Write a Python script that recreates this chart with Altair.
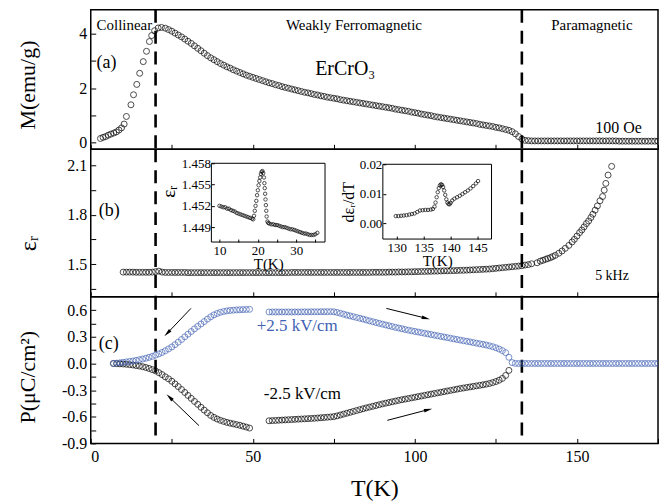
import altair as alt
import pandas as pd

FONT = "Liberation Serif"
BLUE = "#4161b4"

# ---------------- panel (a): M (emu/g) vs T (K) ----------------
T_M_low = [3.0, 3.8, 4.6, 5.4, 6.2, 7.1, 7.9, 8.7, 9.5, 10.3, 11.0, 12.4, 13.2, 14.2,
           15.1, 16.2, 17.2, 18.1, 18.8, 19.7, 20.8, 21.8]
M_low = [0.15, 0.19, 0.22, 0.27, 0.31, 0.35, 0.39, 0.46, 0.54, 0.68, 0.96, 1.39, 1.76, 2.14,
         2.55, 2.98, 3.36, 3.72, 3.94, 4.12, 4.22, 4.24]
T_M_high = list(range(23, 176))
M_high = [
    4.21, 4.16, 4.10, 4.03, 3.96, 3.89, 3.81, 3.73, 3.65, 3.56,
    3.47, 3.38, 3.29, 3.20, 3.12, 3.05, 2.98, 2.91, 2.85, 2.79,
    2.74, 2.68, 2.63, 2.58, 2.53, 2.48, 2.44, 2.40, 2.36, 2.32,
    2.28, 2.24, 2.20, 2.17, 2.13, 2.10, 2.06, 2.03, 2.00, 1.97,
    1.94, 1.91, 1.88, 1.85, 1.83, 1.80, 1.77, 1.75, 1.72, 1.70,
    1.67, 1.65, 1.63, 1.61, 1.58, 1.56, 1.54, 1.52, 1.50, 1.48,
    1.46, 1.44, 1.42, 1.40, 1.38, 1.36, 1.34, 1.32, 1.30, 1.28,
    1.26, 1.23, 1.21, 1.19, 1.17, 1.15, 1.12, 1.10, 1.08, 1.05,
    1.03, 1.01, 0.99, 0.96, 0.94, 0.92, 0.90, 0.88, 0.86, 0.84,
    0.82, 0.80, 0.78, 0.76, 0.74, 0.72, 0.70, 0.67, 0.65, 0.63,
    0.61, 0.59, 0.56, 0.54, 0.51, 0.48, 0.45, 0.40, 0.32, 0.22,
    0.13, 0.08, 0.07, 0.06, 0.06, 0.06, 0.06, 0.06, 0.06, 0.06,
    0.06, 0.06, 0.06, 0.06, 0.06, 0.06, 0.06, 0.06, 0.06, 0.06,
    0.06, 0.06, 0.06, 0.06, 0.06, 0.06, 0.06, 0.06, 0.06, 0.06,
    0.05, 0.05, 0.05, 0.05, 0.05, 0.05, 0.05, 0.05, 0.05, 0.05,
    0.05, 0.05, 0.05,
]

# ---------------- panel (b): eps_r vs T ----------------
T_E_low = list(range(10, 137))
E_low = [
    1.451, 1.451, 1.451, 1.451, 1.450, 1.450, 1.450, 1.450, 1.450, 1.451,
    1.454, 1.457, 1.451, 1.449, 1.449, 1.449, 1.449, 1.449, 1.449, 1.449,
    1.448, 1.448, 1.448, 1.448, 1.448, 1.448, 1.448, 1.448, 1.448, 1.448,
    1.448, 1.448, 1.448, 1.448, 1.448, 1.448, 1.448, 1.448, 1.448, 1.448,
    1.448, 1.448, 1.448, 1.448, 1.448, 1.448, 1.448, 1.448, 1.448, 1.448,
    1.448, 1.448, 1.449, 1.449, 1.449, 1.449, 1.449, 1.449, 1.449, 1.449,
    1.449, 1.449, 1.449, 1.449, 1.449, 1.449, 1.449, 1.449, 1.449, 1.449,
    1.449, 1.449, 1.449, 1.449, 1.449, 1.449, 1.449, 1.450, 1.450, 1.450,
    1.450, 1.450, 1.451, 1.451, 1.451, 1.452, 1.452, 1.452, 1.453, 1.453,
    1.454, 1.454, 1.455, 1.455, 1.456, 1.456, 1.457, 1.457, 1.458, 1.459,
    1.459, 1.460, 1.460, 1.461, 1.462, 1.462, 1.463, 1.464, 1.465, 1.466,
    1.467, 1.468, 1.469, 1.470, 1.472, 1.474, 1.476, 1.478, 1.480, 1.482,
    1.484, 1.486, 1.488, 1.490, 1.494, 1.497, 1.502,
]
T_E_high = [137.7, 138.7, 139.5, 140.3, 141.0, 141.8, 142.5, 143.3, 144.4, 145.4,
            146.4, 147.5, 148.5, 149.2, 150.0, 150.8, 151.5, 152.2, 152.9, 153.6,
            154.3, 154.9, 155.6, 156.3, 157.1, 157.9, 158.4, 158.9, 159.6, 160.7]
E_high = [1.508, 1.518, 1.523, 1.529, 1.534, 1.539, 1.546, 1.553, 1.566, 1.580,
          1.596, 1.614, 1.635, 1.651, 1.671, 1.692, 1.708, 1.727, 1.747, 1.763,
          1.784, 1.804, 1.829, 1.855, 1.886, 1.912, 1.951, 1.992, 2.043, 2.096]

# inset 1: eps_r near 20 K
T_in1 = [10.0, 10.5, 11.0, 11.5, 12.0, 12.5, 13.0, 13.5, 14.0, 14.5, 15.0, 15.5, 16.0, 16.5,
         17.0, 17.5, 18.0, 18.5, 18.8,
         19.0, 19.2, 19.4, 19.6, 19.8, 20.0, 20.2, 20.4, 20.6, 20.8, 21.0, 21.2,
         21.4, 21.6, 21.7, 21.8, 21.9, 22.0, 22.1, 22.2, 22.3, 22.5, 22.7,
         23.0, 23.5, 24.0, 24.5, 25.0, 25.5, 26.0, 26.5, 27.0, 27.5, 28.0, 28.5, 29.0,
         29.5, 30.0, 30.5, 31.0, 31.5, 32.0, 32.5, 33.0, 33.5, 34.0, 34.5, 35.0, 35.5]
E_in1 = [1.4520, 1.4519, 1.4518, 1.4518, 1.4516, 1.4516, 1.4514, 1.4513, 1.4512, 1.4510,
         1.4509, 1.4508, 1.4507, 1.4506, 1.4505, 1.4504, 1.4503, 1.4502, 1.4501,
         1.4506, 1.4513, 1.4520, 1.4527, 1.4535, 1.4542, 1.4549, 1.4555, 1.4560, 1.4565,
         1.4568, 1.4569,
         1.4566, 1.4560, 1.4552, 1.4545, 1.4537, 1.4529, 1.4521, 1.4513, 1.4505, 1.4498, 1.4496,
         1.4495, 1.4494, 1.4494, 1.4493, 1.4493, 1.4492, 1.4491, 1.4490, 1.4490, 1.4489,
         1.4488, 1.4487, 1.4487, 1.4486, 1.4485, 1.4484, 1.4483, 1.4482, 1.4481, 1.4481,
         1.4480, 1.4479, 1.4479, 1.4479, 1.4480, 1.4482]

# inset 2: d eps_r / dT near 138 K
T_in2 = [129.8, 130.3, 130.8, 131.3, 131.8, 132.3, 132.8, 133.3, 133.8, 134.3, 134.8, 135.3,
         135.8, 136.3, 136.7, 137.0, 137.2, 137.4, 137.6, 137.8, 138.0, 138.2, 138.4, 138.6,
         138.8, 139.0, 139.2, 139.4, 139.6, 139.8, 140.0, 140.3, 140.7, 141.2, 141.7, 142.2,
         142.7, 143.2, 143.7, 144.2, 144.7, 145.1]
D_in2 = [0.0024, 0.0024, 0.0025, 0.0026, 0.0027, 0.0029, 0.0031, 0.0033, 0.0038, 0.0043,
         0.0044, 0.0045, 0.0045, 0.0046, 0.0048, 0.0056, 0.0070, 0.0088, 0.0105, 0.0119,
         0.0128, 0.0132, 0.0130, 0.0123, 0.0111, 0.0096, 0.0081, 0.0070, 0.0065, 0.0064,
         0.0069, 0.0077, 0.0083, 0.0088, 0.0093, 0.0099, 0.0105, 0.0111, 0.0118, 0.0126,
         0.0135, 0.0143]

# ---------------- panel (c): P vs T ----------------
T_P1 = list(range(7, 50))
P_pos1 = [0.000, 0.004, 0.008, 0.013, 0.018, 0.023, 0.028, 0.035, 0.042, 0.050,
          0.059, 0.069, 0.080, 0.094, 0.108, 0.124, 0.143, 0.164, 0.186, 0.212,
          0.240, 0.270, 0.300, 0.330, 0.360, 0.390, 0.418, 0.445, 0.472, 0.500,
          0.525, 0.547, 0.563, 0.576, 0.585, 0.592, 0.597, 0.600, 0.603, 0.605,
          0.607, 0.608, 0.610]
P_neg1 = [0.000, -0.002, -0.004, -0.006, -0.009, -0.013, -0.017, -0.023, -0.029, -0.036,
          -0.045, -0.056, -0.069, -0.084, -0.103, -0.125, -0.150, -0.173, -0.200, -0.230,
          -0.260, -0.293, -0.326, -0.360, -0.393, -0.427, -0.460, -0.493, -0.525, -0.555,
          -0.585, -0.607, -0.625, -0.640, -0.652, -0.663, -0.672, -0.680, -0.688, -0.696,
          -0.706, -0.716, -0.727]
T_P2 = list(range(55, 130))
P_pos2 = [0.580, 0.580, 0.580, 0.580, 0.580, 0.580, 0.580, 0.580, 0.580, 0.580,
          0.581, 0.581, 0.581, 0.582, 0.582, 0.582, 0.583, 0.583, 0.583, 0.584,
          0.582, 0.575, 0.565, 0.555, 0.545, 0.536, 0.527, 0.518, 0.509, 0.500,
          0.490, 0.480, 0.470, 0.461, 0.452, 0.443, 0.434, 0.425, 0.416, 0.407,
          0.399, 0.391, 0.383, 0.375, 0.368, 0.361, 0.354, 0.347, 0.340, 0.333,
          0.326, 0.319, 0.312, 0.305, 0.298, 0.291, 0.284, 0.277, 0.270, 0.263,
          0.256, 0.250, 0.243, 0.236, 0.229, 0.222, 0.215, 0.208, 0.199, 0.189,
          0.177, 0.162, 0.145, 0.122, 0.070]
P_neg2 = [-0.645, -0.643, -0.641, -0.639, -0.637, -0.635, -0.633, -0.631, -0.629, -0.627,
          -0.625, -0.623, -0.621, -0.619, -0.617, -0.614, -0.611, -0.608, -0.605, -0.602,
          -0.598, -0.590, -0.580, -0.570, -0.560, -0.550, -0.540, -0.530, -0.520, -0.510,
          -0.500, -0.491, -0.482, -0.473, -0.464, -0.455, -0.447, -0.439, -0.431, -0.423,
          -0.415, -0.408, -0.401, -0.394, -0.387, -0.380, -0.373, -0.366, -0.359, -0.352,
          -0.345, -0.338, -0.331, -0.324, -0.317, -0.310, -0.303, -0.296, -0.289, -0.282,
          -0.276, -0.270, -0.264, -0.258, -0.252, -0.246, -0.240, -0.233, -0.225, -0.215,
          -0.203, -0.188, -0.168, -0.135, -0.078]
T_P3 = list(range(130, 176))
P_pos3 = [0.010, 0.001, 0.000, 0.000, 0.000, 0.000, 0.000, 0.000, 0.000, 0.000,
          0.000, 0.000, 0.000, 0.000, 0.000, 0.000, 0.000, 0.000, 0.000, 0.000,
          0.000, 0.000, 0.000, 0.000, 0.000, 0.000, 0.000, 0.000, 0.000, 0.000,
          0.000, 0.000, 0.000, 0.000, 0.000, 0.000, 0.000, 0.000, 0.000, 0.000,
          0.000, 0.000, 0.000, 0.000, 0.000, 0.000]

TRANSITIONS = [20, 133]
X_TICKS = [0, 25, 50, 75, 100, 125, 150, 175]
MA_TICKS = [0, 1, 2, 3, 4]
EB_TICKS = [1.35, 1.5, 1.65, 1.8, 1.95, 2.1]
PC_TICKS = [-0.9, -0.75, -0.6, -0.45, -0.3, -0.15, 0.0, 0.15, 0.3, 0.45, 0.6]

# arrows in panel (c): start (T, P) -> end (T2, P2), head angle in degrees
ARR_T = [30.9, 33.4, 91.2, 91.5]
ARR_P = [0.62, -0.70, 0.62, -0.64]
ARR_T2 = [23.6, 24.3, 103.4, 104.1]
ARR_P2 = [0.34, -0.38, 0.51, -0.52]
ARR_ANG = [225, 314, 104, 76]

# ---------------- helpers ----------------
W = 569
HA, HB, HC = 140, 148, 147
xscale = alt.Scale(domain=[0, 175], nice=False, zero=False)
INWARD5 = {"expr": "-5"}
INWARD3 = {"expr": "-3"}


def xaxis(labels):
    if labels:
        return alt.Axis(values=X_TICKS, labelExpr="datum.value % 50 == 0 ? datum.label : ''",
                        title="T(K)", tickSize=INWARD5, labelPadding=10, domain=False,
                        grid=False, labelFontSize=16, titleFontSize=24, titlePadding=12)
    return alt.Axis(values=X_TICKS, labels=False, title=None, tickSize=INWARD5,
                    domain=False, grid=False)


def yaxis(title, values, expr, ty, tx=-63, tsize=22):
    return alt.Axis(values=values, labelExpr=expr, title=title, tickSize=INWARD5,
                    labelPadding=9, domain=False, grid=False, labelFontSize=16,
                    titleFontSize=tsize, titleX=tx, titleY=ty, titleAngle=270,
                    titleAlign="center", titleBaseline="middle")


def pts(df, color="black", size=36):
    return alt.Chart(df).mark_point(shape="circle", filled=False, size=size, strokeWidth=1,
                                    color=color, clip=True)


def texts(df, X, Y, **kw):
    return alt.Chart(df).mark_text(font=FONT, color=kw.pop("color", "black"), **kw).encode(
        x=X, y=Y, text="label:N")


def rules(X):
    return alt.Chart(pd.DataFrame({"T": TRANSITIONS})).mark_rule(
        strokeDash=[13, 8], strokeWidth=2.6, color="black", clip=True).encode(x=X)


LAB2 = "round(datum.value*100) % 30 == 0 ? replace(format(datum.value, '.1f'), '\u2212', '-') : ''"

# ---------------- panel (a) ----------------
Xa = alt.X("T:Q", scale=xscale, axis=xaxis(False))
Ya = alt.Y("v:Q", scale=alt.Scale(domain=[-0.25, 4.89], nice=False, zero=False),
           axis=yaxis("M(emu/g)", MA_TICKS, "datum.value % 2 == 0 ? datum.label : ''", 75))
df_a = pd.DataFrame({"T": T_M_low + T_M_high[:len(M_high)], "v": M_low + M_high[:len(T_M_high)]})
panel_a = alt.layer(
    rules(Xa),
    pts(df_a).encode(x=Xa, y=Ya),
    texts(pd.DataFrame({"T": [1.8], "v": [4.34], "label": ["Collinear"]}), Xa, Ya,
          align="left", baseline="middle", fontSize=15),
    texts(pd.DataFrame({"T": [81.2, 154.6], "v": [4.34, 4.34],
                        "label": ["Weakly Ferromagnetic", "Paramagnetic"]}), Xa, Ya,
          align="center", baseline="middle", fontSize=15),
    texts(pd.DataFrame({"T": [78.5], "v": [2.69], "label": ["ErCrO\u2083"]}), Xa, Ya,
          align="center", baseline="middle", fontSize=20),
    texts(pd.DataFrame({"T": [1.8], "v": [2.92], "label": ["(a)"]}), Xa, Ya,
          align="left", baseline="middle", fontSize=18),
    texts(pd.DataFrame({"T": [170], "v": [0.53], "label": ["100 Oe"]}), Xa, Ya,
          align="right", baseline="middle", fontSize=16),
).properties(width=W, height=HA)

# ---------------- panel (b) ----------------
Xb = alt.X("T:Q", scale=xscale, axis=xaxis(False))
Yb = alt.Y("v:Q", scale=alt.Scale(domain=[1.3, 2.2], nice=False, zero=False),
           axis=yaxis("\u03b5\u1d63", EB_TICKS, LAB2, 94, tx=-62, tsize=24))
df_b = pd.DataFrame({"T": T_E_low[:len(E_low)] + T_E_high, "v": E_low[:len(T_E_low)] + E_high})
main_b = alt.layer(
    rules(Xb),
    pts(df_b).encode(x=Xb, y=Yb),
    texts(pd.DataFrame({"T": [2.5], "v": [1.823], "label": ["(b)"]}), Xb, Yb,
          align="left", baseline="middle", fontSize=18),
    texts(pd.DataFrame({"T": [166], "v": [1.427], "label": ["5 kHz"]}), Xb, Yb,
          align="right", baseline="middle", fontSize=14),
)

X1 = alt.X("T:Q", scale=alt.Scale(domain=[7.9, 37.5], range=[121, 235], nice=False, zero=False),
           axis=alt.Axis(orient="bottom", offset=-55, values=[10, 15, 20, 25, 30, 35],
                         labelExpr="datum.value % 10 == 0 ? datum.label : ''", title="T(K)",
                         tickSize=INWARD3, labelPadding=5, domain=False, grid=False,
                         labelFontSize=13, titleFontSize=15, titlePadding=0))
Y1 = alt.Y("v:Q", scale=alt.Scale(domain=[1.4469, 1.458], range=[93, 14], nice=False, zero=False),
           axis=alt.Axis(orient="left", offset=-121, values=[1.449, 1.452, 1.455, 1.458],
                         format=".3f", title="\u03b5\u1d63", tickSize=INWARD3, labelPadding=4,
                         domain=False, grid=False, labelFontSize=13, titleFontSize=19,
                         titlePadding=3, titleY=42))
frame1 = pd.DataFrame({"T": [7.9], "T2": [37.5], "v": [1.4469], "v2": [1.458]})
inset1 = alt.layer(
    alt.Chart(frame1).mark_rect(fillOpacity=0, stroke="black", strokeWidth=1).encode(
        x=X1, x2="T2", y=Y1, y2="v2"),
    pts(pd.DataFrame({"T": T_in1, "v": E_in1}), size=12).encode(x=X1, y=Y1),
)

X2 = alt.X("T:Q", scale=alt.Scale(domain=[127.4, 147.6], range=[293, 402], nice=False, zero=False),
           axis=alt.Axis(orient="bottom", offset=-58, values=[130, 135, 140, 145], title="T(K)",
                         tickSize=INWARD3, labelPadding=5, domain=False, grid=False,
                         labelFontSize=13, titleFontSize=15, titlePadding=0))
Y2 = alt.Y("v:Q", scale=alt.Scale(domain=[-0.0054, 0.02], range=[90, 15], nice=False, zero=False),
           axis=alt.Axis(orient="left", offset=-293, values=[0.0, 0.01, 0.02], format=".2f",
                         title="d\u03b5\u1d63/dT", tickSize=INWARD3, labelPadding=4,
                         domain=False, grid=False, labelFontSize=13, titleFontSize=16,
                         titlePadding=3))
frame2 = pd.DataFrame({"T": [127.4], "T2": [147.6], "v": [-0.0054], "v2": [0.02]})
inset2 = alt.layer(
    alt.Chart(frame2).mark_rect(fillOpacity=0, stroke="black", strokeWidth=1).encode(
        x=X2, x2="T2", y=Y2, y2="v2"),
    pts(pd.DataFrame({"T": T_in2, "v": D_in2}), size=12).encode(x=X2, y=Y2),
)

panel_b = alt.layer(main_b, inset1, inset2).resolve_scale(
    x="independent", y="independent").properties(width=W, height=HB)

# ---------------- panel (c) ----------------
Xc = alt.X("T:Q", scale=xscale, axis=xaxis(True))
Yc = alt.Y("v:Q", scale=alt.Scale(domain=[-0.9, 0.75], nice=False, zero=False),
           axis=yaxis("P(\u03bcC/cm\u00b2)", PC_TICKS, LAB2, 80))
df_neg = pd.DataFrame({"T": T_P1 + T_P2, "v": P_neg1 + P_neg2})
df_pos = pd.DataFrame({"T": T_P1 + T_P2 + T_P3, "v": P_pos1 + P_pos2 + P_pos3})
df_arr = pd.DataFrame({"T": ARR_T, "v": ARR_P, "T2": ARR_T2, "v2": ARR_P2})
df_head = pd.DataFrame({"T": ARR_T2, "v": ARR_P2, "ang": ARR_ANG})
panel_c = alt.layer(
    rules(Xc),
    pts(df_neg).encode(x=Xc, y=Yc),
    pts(df_pos, color=BLUE).encode(x=Xc, y=Yc),
    alt.Chart(df_arr).mark_rule(color="black", strokeWidth=1).encode(
        x=Xc, y=Yc, x2="T2", y2="v2"),
    alt.Chart(df_head).mark_point(shape="M0,-1L0.42,1L-0.42,1Z", filled=True, size=70,
                                  color="black", opacity=1).encode(
        x=Xc, y=Yc, angle=alt.Angle("ang:Q", scale=None)),
    texts(pd.DataFrame({"T": [2.5], "v": [0.22], "label": ["(c)"]}), Xc, Yc,
          align="left", baseline="middle", fontSize=18),
    texts(pd.DataFrame({"T": [51.2], "v": [0.42], "label": ["+2.5 kV/cm"]}), Xc, Yc,
          align="left", baseline="middle", fontSize=17, color=BLUE),
    texts(pd.DataFrame({"T": [53.4], "v": [-0.34], "label": ["-2.5 kV/cm"]}), Xc, Yc,
          align="left", baseline="middle", fontSize=17),
).properties(width=W, height=HC)

chart = alt.vconcat(panel_a, panel_b, panel_c, spacing=0, bounds="flush").properties(
    padding={"left": 8, "top": 0, "right": 0, "bottom": 0}
).configure_view(stroke="black", strokeWidth=1.5).configure_axis(
    labelFont=FONT, titleFont=FONT, labelColor="black", titleColor="black",
    tickColor="black", tickWidth=1, titleFontWeight="normal"
).configure_text(font=FONT)

chart.save("out.html", embed_options={"renderer": "svg", "actions": False})
